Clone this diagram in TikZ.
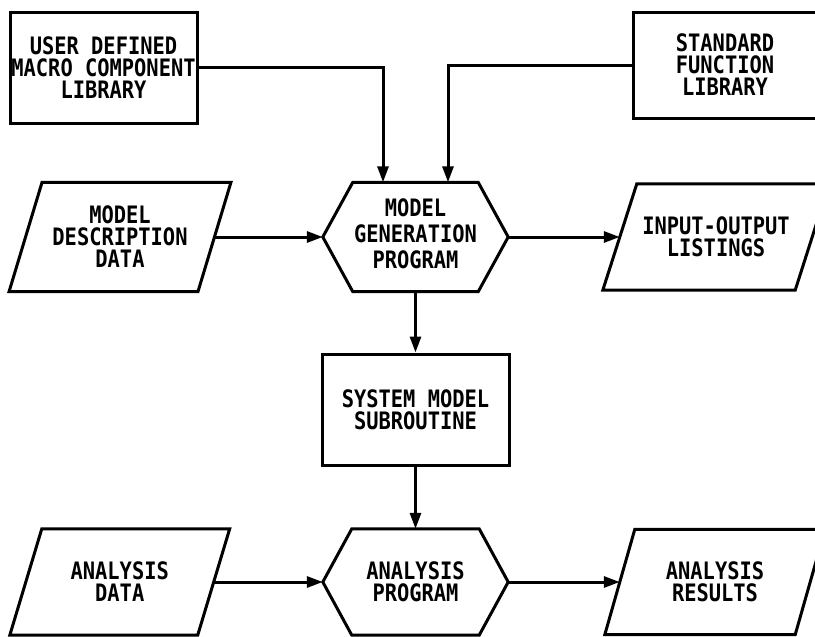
\documentclass[tikz,border=0pt]{standalone}
\usepackage{fontspec}
\newfontfamily\lblfont[FakeStretch=0.85]{DejaVu Sans Mono}
\usetikzlibrary{arrows.meta}
\newcommand\parlg[2]{\draw[outline] ([xshift=#2]#1.north west) -- ([xshift=#2]#1.north east) -- ([xshift=-#2]#1.south east) -- ([xshift=-#2]#1.south west) -- cycle;}
\newcommand\hexa[2]{\draw[outline] (#1.west) -- ([xshift=#2]#1.north west) -- ([xshift=-#2]#1.north east) -- (#1.east) -- ([xshift=-#2]#1.south east) -- ([xshift=#2]#1.south west) -- cycle;}
\begin{document}
\begin{tikzpicture}[x=1pt,y=-1pt,
  txt/.style={inner sep=0pt, align=center, font={\lblfont\bfseries\fontsize{24pt}{22pt}\selectfont}},
  rbox/.style={txt, draw, line width=3pt, minimum width=187pt, minimum height=111pt},
  pshape/.style={txt},
  outline/.style={line width=3pt, line join=miter},
  arr/.style={line width=3pt, -{Triangle[length=16pt,width=11pt]}}
]
\useasboundingbox (0,0) rectangle (815,637);
\fill[white] (0,0) rectangle (815,637);

\node[rbox] (ud) at (103.5,67.5) {USER DEFINED\\MACRO COMPONENT\\LIBRARY};
\node[rbox, minimum width=184pt, minimum height=106pt] (sf) at (725,65) {STANDARD\\FUNCTION\\LIBRARY};

\node[pshape, minimum width=188.5pt, minimum height=109pt] (md) at (120,237) {MODEL\\DESCRIPTION\\DATA};
\node[pshape, minimum width=185pt, minimum height=109pt] (mg) at (415.5,237) {\raisebox{7pt}{\begin{tabular}{@{}c@{}}MODEL\\[1.5pt]GENERATION\\[1.5pt]PROGRAM\end{tabular}}};
\node[pshape, minimum width=192pt, minimum height=106pt] (io) at (716,237) {INPUT-OUTPUT\\LISTINGS};
\parlg{md}{16.5pt}
\hexa{mg}{30pt}
\parlg{io}{17pt}

\node[rbox] (sm) at (415.5,409.5) {SYSTEM MODEL\\SUBROUTINE};

\node[pshape, minimum width=187.5pt, minimum height=106pt] (ad) at (119.75,582) {ANALYSIS\\DATA};
\node[pshape, minimum width=185pt, minimum height=106pt] (ap) at (415.5,582) {ANALYSIS\\PROGRAM};
\node[pshape, minimum width=190pt, minimum height=105pt] (ar) at (715,582) {ANALYSIS\\RESULTS};
\parlg{ad}{16pt}
\hexa{ap}{29pt}
\parlg{ar}{15pt}

\draw[arr] (ud.east) -| ([xshift=-32.5pt]mg.north);
\draw[arr] (sf.west) -| ([xshift=32.5pt]mg.north);
\draw[arr] (md.east) -- (mg.west);
\draw[arr] (mg.east) -- (io.west);
\draw[arr] (mg.south) -- (sm.north);
\draw[arr] (sm.south) -- (ap.north);
\draw[arr] (ad.east) -- (ap.west);
\draw[arr] (ap.east) -- (ar.west);
\end{tikzpicture}
\end{document}
